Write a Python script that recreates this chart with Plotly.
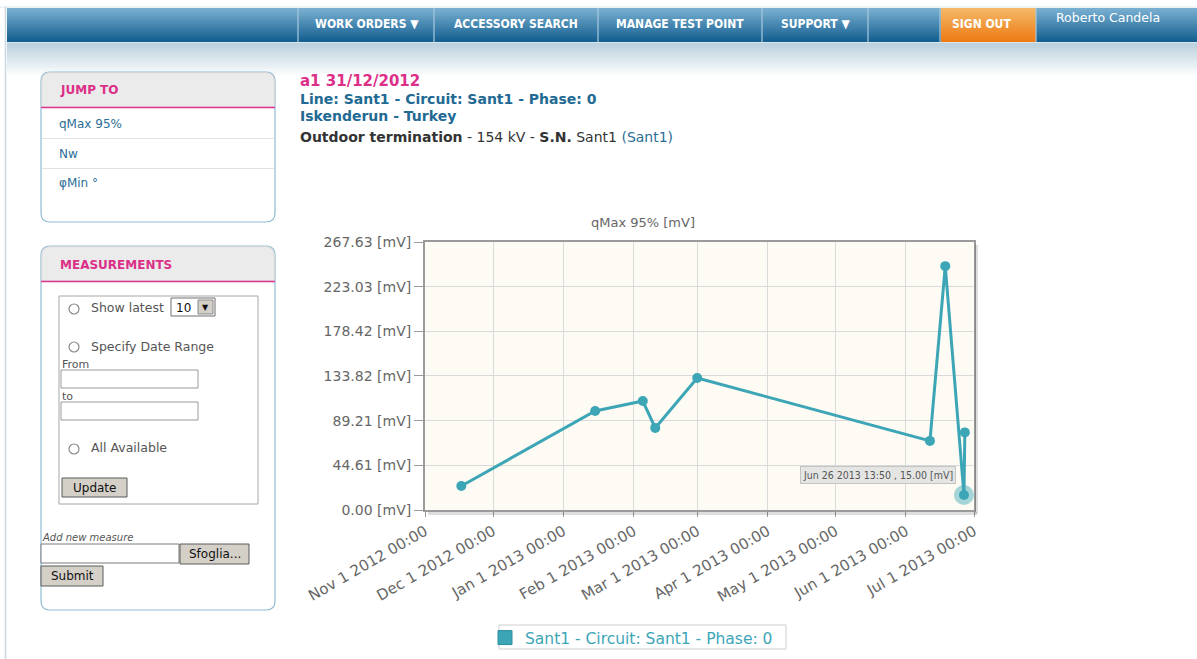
import plotly.graph_objects as go

# ---------------- DATA ----------------
dates = ["2012-11-17", "2013-01-15", "2013-02-05", "2013-02-10 12:00", "2013-03-01",
         "2013-06-11 14:00", "2013-06-18 08:00", "2013-06-26 13:50", "2013-06-26 23:00"]
values = [24.0, 98.9, 108.8, 82.0, 131.8, 69.0, 243.5, 15.0, 77.5]
hover_index = 7
hover_label = "Jun 26 2013 13:50 , 15.00 [mV]"

ytick_vals = [0.00, 44.61, 89.21, 133.82, 178.42, 223.03, 267.63]
ytick_text = ["0.00 [mV]", "44.61 [mV]", "89.21 [mV]", "133.82 [mV]",
              "178.42 [mV]", "223.03 [mV]", "267.63 [mV]"]
xtick_vals = ["2012-11-01", "2012-12-01", "2013-01-01", "2013-02-01", "2013-03-01",
              "2013-04-01", "2013-05-01", "2013-06-01", "2013-07-01"]
xtick_text = ["Nov 1 2012 00:00", "Dec 1 2012 00:00", "Jan 1 2013 00:00",
              "Feb 1 2013 00:00", "Mar 1 2013 00:00", "Apr 1 2013 00:00",
              "May 1 2013 00:00", "Jun 1 2013 00:00", "Jul 1 2013 00:00"]
series_name = "Sant1 - Circuit: Sant1 - Phase: 0"
chart_title = "qMax 95% [mV]"

nav_items = ["WORK ORDERS \u25BC", "ACCESSORY SEARCH", "MANAGE TEST POINT", "SUPPORT \u25BC"]
jump_items = ["qMax 95%", "Nw", "\u03c6Min \u00b0"]

# ---------------- LAYOUT GEOMETRY ----------------
W, H = 1197, 659
ML, MR, MT, MB = 425, 223, 242, 149
PW = W - ML - MR
PH = H - MT - MB

TEAL = "#3ca6b7"
MAGENTA = "#dc2f88"
LINKBLUE = "#2c6e96"
FONT = "DejaVu Sans, Verdana, sans-serif"
NAVFONT = "DejaVu Sans Condensed, Roboto, sans-serif"


def px(x):
    return (x - ML) / PW


def py(y):
    return 1 - (y - MT) / PH


shapes = []
annotations = []


def rect(x0, y0, x1, y1, fill=None, line=None, lw=1, layer="above"):
    shapes.append(dict(type="rect", xref="paper", yref="paper",
                       x0=px(x0), x1=px(x1), y0=py(y0), y1=py(y1),
                       fillcolor=fill if fill else "rgba(0,0,0,0)",
                       line=dict(color=line if line else "rgba(0,0,0,0)", width=lw if line else 0),
                       layer=layer))


def hline(x0, x1, y, color, lw=1):
    shapes.append(dict(type="line", xref="paper", yref="paper",
                       x0=px(x0), x1=px(x1), y0=py(y), y1=py(y),
                       line=dict(color=color, width=lw)))


def vline(x, y0, y1, color, lw=1):
    shapes.append(dict(type="line", xref="paper", yref="paper",
                       x0=px(x), x1=px(x), y0=py(y0), y1=py(y1),
                       line=dict(color=color, width=lw)))


def P(x, y):
    return f"{px(x):.5f},{py(y):.5f}"


def rrect(x0, y0, x1, y1, r, fill=None, line=None, lw=1, top_only=False):
    if top_only:
        path = (f"M{P(x0, y1)} L{P(x0, y0 + r)} Q{P(x0, y0)} {P(x0 + r, y0)} "
                f"L{P(x1 - r, y0)} Q{P(x1, y0)} {P(x1, y0 + r)} L{P(x1, y1)} Z")
    else:
        path = (f"M{P(x0 + r, y0)} L{P(x1 - r, y0)} Q{P(x1, y0)} {P(x1, y0 + r)} "
                f"L{P(x1, y1 - r)} Q{P(x1, y1)} {P(x1 - r, y1)} L{P(x0 + r, y1)} "
                f"Q{P(x0, y1)} {P(x0, y1 - r)} L{P(x0, y0 + r)} Q{P(x0, y0)} {P(x0 + r, y0)} Z")
    shapes.append(dict(type="path", xref="paper", yref="paper", path=path,
                       fillcolor=fill if fill else "rgba(0,0,0,0)",
                       line=dict(color=line if line else "rgba(0,0,0,0)", width=lw if line else 0)))


def circle(cx, cy, r, fill, line, lw=1):
    shapes.append(dict(type="circle", xref="paper", yref="paper",
                       x0=px(cx - r), x1=px(cx + r), y0=py(cy + r), y1=py(cy - r),
                       fillcolor=fill, line=dict(color=line, width=lw)))


def txt(x, y, s, size=12, color="#555555", anchor="left", family=FONT, weight="normal", style="normal"):
    annotations.append(dict(xref="paper", yref="paper", x=px(x), y=py(y), text=s,
                            showarrow=False, xanchor=anchor, yanchor="middle",
                            borderpad=0,
                            font=dict(size=size, color=color, family=family, weight=weight, style=style)))


def lerp(c0, c1, t):
    a = [int(c0[i:i + 2], 16) for i in (1, 3, 5)]
    b = [int(c1[i:i + 2], 16) for i in (1, 3, 5)]
    return "#" + "".join(f"{round(a[i] + (b[i] - a[i]) * t):02x}" for i in range(3))


def vgrad(x0, x1, y0, y1, c0, c1, steps):
    h = (y1 - y0) / steps
    for i in range(steps):
        rect(x0, y0 + i * h, x1, y0 + (i + 1) * h + 0.6, fill=lerp(c0, c1, i / (steps - 1)))


# ---------------- PAGE CHROME ----------------
hline(0, W, 7, "#dce6ec", 1)
vline(5.5, 7, H, "#c9d8e2", 1.5)

vgrad(7, W, 8, 42, "#78afd1", "#145f8f", 17)
vgrad(941, 1036, 8, 42, "#f4b866", "#ee7b14", 17)
for sx in [298, 434, 598, 762, 868, 940, 1036]:
    vline(sx, 8, 42, "#a8c9dd", 1.2)
hline(7, W, 42.5, "#d9e6ee", 1.2)
vgrad(7, W, 43, 78, "#bcd2df", "#ffffff", 14)

nav_centers = [367, 516, 680, 815]
for cx, s in zip(nav_centers, nav_items):
    txt(cx, 24, s, size=12, color="#ffffff", anchor="center", family=NAVFONT, weight="bold")
txt(981, 24, "SIGN OUT", size=12, color="#ffffff", anchor="center", family=NAVFONT, weight="bold")
txt(1108, 17, "Roberto Candela", size=12.5, color="#ffffff", anchor="center")

# ---------------- SIDEBAR: JUMP TO ----------------
rrect(41, 72, 275, 222, 9, fill="#ffffff", line="#8fbbd3", lw=1.2)
rrect(41.6, 72.6, 274.4, 107, 9, fill="#ebebeb", line="#d4d4d4", lw=1, top_only=True)
hline(41, 275, 107.5, "#e0358f", 1.5)
txt(59, 90, "JUMP TO", size=12, color=MAGENTA, weight="bold")
for yy in [138.5, 168.5]:
    hline(42, 274, yy, "#e2e2e2", 1.2)
for yy, s in zip([124, 154, 183], jump_items):
    txt(58, yy, s, size=12, color=LINKBLUE)

# ---------------- SIDEBAR: MEASUREMENTS ----------------
rrect(41, 246, 275, 610, 9, fill="#ffffff", line="#8fbbd3", lw=1.2)
rrect(41.6, 246.6, 274.4, 281, 9, fill="#ebebeb", line="#d4d4d4", lw=1, top_only=True)
hline(41, 275, 281.5, "#e0358f", 1.5)
txt(59, 265, "MEASUREMENTS", size=12, color=MAGENTA, weight="bold")

rect(59, 296, 258, 504, fill="#ffffff", line="#a6a6a6", lw=1)
for cy in [309, 347, 449]:
    circle(74, cy, 5, "#ffffff", "#8a8a8a", 1.2)
txt(90, 307, "Show latest", size=12.5, color="#555555")
rect(171, 298, 215, 316, fill="#ffffff", line="#6f6f6f", lw=1)
rect(198, 300, 213, 314, fill="#d4d0c8", line="#8a8a8a", lw=1)
txt(175, 308, "10", size=12, color="#111111")
txt(205.5, 307.5, "\u25BC", size=8, color="#111111", anchor="center")
txt(90, 346, "Specify Date Range", size=12.5, color="#555555")
txt(61, 364, "From", size=11, color="#555555")
rect(61, 370, 198, 388, fill="#ffffff", line="#9a9a9a", lw=1)
txt(61, 396, "to", size=11, color="#555555")
rect(61, 402, 198, 420, fill="#ffffff", line="#9a9a9a", lw=1)
txt(90, 447, "All Available", size=12.5, color="#555555")
rect(62, 478, 127, 497, fill="#d4d0c8", line="#5a5a5a", lw=1)
txt(94.5, 488, "Update", size=12, color="#111111", anchor="center")

txt(41, 537, "Add new measure", size=10, color="#555555", style="italic")
rect(41, 544, 179, 563, fill="#ffffff", line="#7a7a7a", lw=1)
rect(180, 544, 249, 564, fill="#d4d0c8", line="#5a5a5a", lw=1)
txt(214.5, 554, "Sfoglia...", size=12, color="#111111", anchor="center")
rect(41, 566, 103, 586, fill="#d4d0c8", line="#5a5a5a", lw=1)
txt(72, 576, "Submit", size=12, color="#111111", anchor="center")

# ---------------- HEADER TEXT ----------------
txt(299, 81, "a1 31/12/2012", size=15, color=MAGENTA, weight="bold")
txt(299, 99, "Line: Sant1 - Circuit: Sant1 - Phase: 0", size=14, color="#226a93", weight="bold")
txt(299, 116, "Iskenderun - Turkey", size=14, color="#226a93", weight="bold")
txt(299, 137, "<b>Outdoor termination</b> - 154 kV - <b>S.N.</b> Sant1 "
              "<span style='color:#2c6e96'>(Sant1)</span>", size=14, color="#333333")

# ---------------- PLOT FRAME SHADOW ----------------
hline(428, 977, 513.5, "rgba(0,0,0,0.13)", 3)
vline(976.5, 245, 514, "rgba(0,0,0,0.13)", 3)

# legend box (legend itself drawn by plotly, border-less)
rect(499, 625, 786, 649, fill="#ffffff", line="#cfcfcf", lw=1)

# tooltip (anchored to the highlighted data point)
annotations.append(dict(xref="x", yref="y", x=dates[hover_index], y=values[hover_index],
                        text=hover_label, showarrow=False, xanchor="right", yanchor="middle",
                        xshift=-8, yshift=20, bgcolor="rgba(225,225,225,0.85)",
                        bordercolor="#c4c4c4", borderwidth=1, borderpad=2,
                        font=dict(size=10.5, color="#555555", family=NAVFONT)))

# ---------------- TRACES ----------------
fig = go.Figure()
fig.add_trace(go.Scatter(x=dates, y=values, mode="lines+markers", name=series_name,
                         showlegend=False, line=dict(color=TEAL, width=3),
                         marker=dict(color=TEAL, size=10), hoverinfo="skip"))
fig.add_trace(go.Scatter(x=[dates[hover_index]], y=[values[hover_index]], mode="markers",
                         showlegend=False, hoverinfo="skip",
                         marker=dict(color="rgba(60,166,183,0.45)", size=20)))
fig.add_trace(go.Scatter(x=[None], y=[None], mode="markers", name=series_name,
                         marker=dict(color=TEAL, size=14, symbol="square",
                                     line=dict(color="#2d8e9e", width=1))))

fig.update_layout(
    width=W, height=H,
    margin=dict(l=ML, r=MR, t=MT, b=MB, autoexpand=False),
    paper_bgcolor="#ffffff",
    plot_bgcolor="#fdfbf3",
    font=dict(family=FONT, color="#666666", size=14),
    title=dict(text=chart_title, x=643 / W, xref="container", xanchor="center",
               y=1 - 222 / H, yref="container", yanchor="middle",
               font=dict(size=13, color="#666666", family=FONT)),
    showlegend=True,
    legend=dict(orientation="h", x=px(485), xanchor="left", y=py(621), yanchor="top",
                borderwidth=0, bgcolor="rgba(0,0,0,0)",
                font=dict(size=15.5, color=TEAL, family=FONT),
                itemwidth=30, tracegroupgap=0),
    xaxis=dict(type="date", range=[xtick_vals[0], xtick_vals[-1]],
               tickmode="array", tickvals=xtick_vals, ticktext=xtick_text,
               tickangle=-30, ticks="outside", ticklen=5, tickcolor="#9a9a9a",
               tickfont=dict(size=15, color="#666666", family=FONT),
               showgrid=True, gridcolor="#dadada", gridwidth=1,
               showline=True, linecolor="#9a9a9a", linewidth=2, mirror=True,
               zeroline=False, fixedrange=True),
    yaxis=dict(range=[ytick_vals[0], ytick_vals[-1]],
               tickmode="array", tickvals=ytick_vals, ticktext=ytick_text,
               ticks="outside", ticklen=9, tickcolor="#9a9a9a",
               tickfont=dict(size=14, color="#666666", family=FONT),
               showgrid=True, gridcolor="#dadada", gridwidth=1,
               showline=True, linecolor="#9a9a9a", linewidth=2, mirror=True,
               zeroline=False, fixedrange=True),
    shapes=shapes,
    annotations=annotations,
    hovermode=False,
)

fig.write_html("out.html", config={"displayModeBar": False, "staticPlot": True},
               post_script="document.body.style.margin='0';document.body.style.overflow='hidden';")
